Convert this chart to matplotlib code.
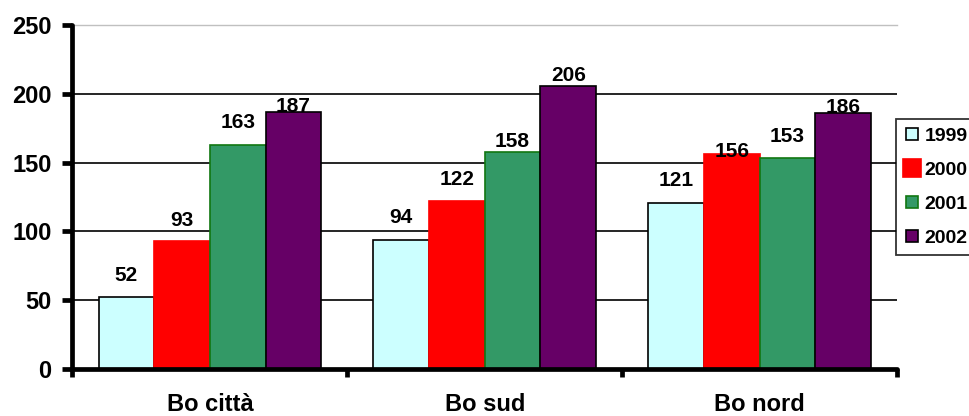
import matplotlib
matplotlib.use("Agg")
import matplotlib.pyplot as plt
from matplotlib.lines import Line2D
import numpy as np

plt.rcParams['font.family'] = ['Liberation Sans', 'DejaVu Sans']
plt.rcParams['font.weight'] = 'bold'

# Data
districts = ["Bo città", "Bo sud", "Bo nord"]
years = ["1999", "2000", "2001", "2002"]
v1999 = [52, 94, 121]
v2000 = [93, 122, 156]
v2001 = [163, 158, 153]
v2002 = [187, 206, 186]
y_ticks = [0, 50, 100, 150, 200, 250]

series = [v1999, v2000, v2001, v2002]
face_colors = ["#CCFFFF", "#FF0000", "#339966", "#660066"]
edge_colors = ["#000000", "#FF0000", "#117711", "#000000"]
# vertical lift of each value label above its bar (pixels), per series and district
label_lift = [[22, 22, 22], [21, 22, 3], [22, 10, 22], [5, 10, 6]]

fig = plt.figure(figsize=(9.69, 4.16), dpi=100)
ax = fig.add_axes([0.0748, 0.113, 0.8509, 0.8269])

x = np.arange(len(districts))
bw = 0.2025
for i, vals in enumerate(series):
    pos = x + (i - 1.5) * bw
    ax.bar(pos, vals, width=bw, color=face_colors[i], edgecolor=edge_colors[i],
           linewidth=1.2, zorder=3)
    for xp, v, lift in zip(pos, vals, label_lift[i]):
        ax.annotate(str(v), (xp, v), xytext=(0, lift), textcoords='offset pixels',
                    ha='center', va='center', fontsize=15, fontweight='bold',
                    zorder=4)

ax.set_xlim(-0.5, len(districts) - 0.5)
ax.set_ylim(0, 250)

# grid
for t in y_ticks[1:-1]:
    ax.axhline(t, color='black', lw=1.2, zorder=1)

ax.spines['right'].set_visible(False)
ax.spines['top'].set_color('#C0C0C0')
ax.spines['top'].set_linewidth(1.0)
for s in ('left', 'bottom'):
    ax.spines[s].set_linewidth(3.4)
    ax.spines[s].set_color('black')
    ax.spines[s].set_capstyle('round')
ax.spines['left'].set_zorder(5)
ax.spines['bottom'].set_zorder(5)

ax.set_yticks(y_ticks)
ax.set_yticklabels([str(t) for t in y_ticks], fontsize=17, fontweight='bold')
ax.tick_params(axis='y', length=7, width=3.4, pad=8, direction='out')

ax.set_xticks(np.arange(len(districts) + 1) - 0.5)
ax.set_xticklabels([])
ax.tick_params(axis='x', which='major', length=6, width=3.4, direction='out')
ax.set_xticks(x, minor=True)
ax.set_xticklabels(districts, minor=True, fontsize=17, fontweight='bold')
ax.tick_params(axis='x', which='minor', length=0, pad=17)

handles = []
for i, yr in enumerate(years):
    ms = 13 if i == 1 else 9
    handles.append(Line2D([], [], linestyle='none', marker='s', markersize=ms,
                          markerfacecolor=face_colors[i],
                          markeredgecolor=edge_colors[i], markeredgewidth=1.2,
                          label=yr))
leg = fig.legend(handles=handles, loc='upper left',
                 bbox_to_anchor=(896 / 969, 1 - 119 / 416),
                 bbox_transform=fig.transFigure, frameon=True, fancybox=False,
                 prop={'size': 14, 'weight': 'bold'}, handlelength=0.8,
                 handletextpad=0.25, labelspacing=0.85, borderpad=0.42,
                 borderaxespad=0)
leg.get_frame().set_edgecolor('black')
leg.get_frame().set_linewidth(1.3)

fig.savefig("out.png", dpi=100)
